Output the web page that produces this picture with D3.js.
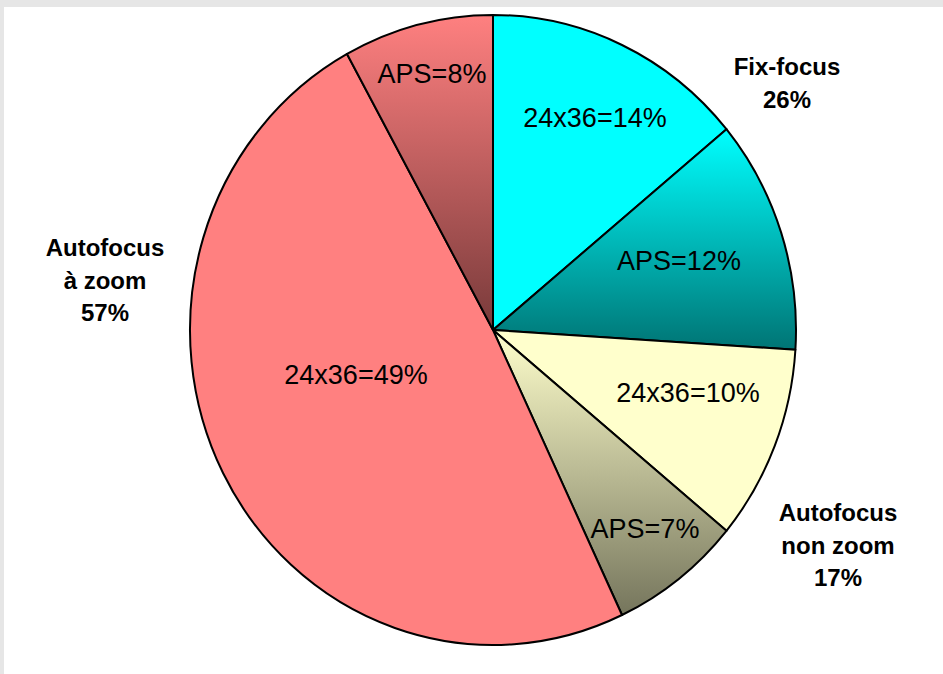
<!DOCTYPE html>
<html>
<head>
<meta charset="utf-8">
<script src="https://cdn.jsdelivr.net/npm/d3@7"></script>
<style>
  html, body { margin: 0; padding: 0; background: #e6e6e6; }
  svg { display: block; }
</style>
</head>
<body>
<svg id="chart" width="943" height="674"></svg>
<script>
// Camera market split by type and film format (clockwise from 12 o'clock)
const sliceLabels = ["24x36", "APS", "24x36", "APS", "24x36", "APS"];
const sliceValues = [14, 12, 10, 7, 49, 8];
const sliceGroups = ["Fix-focus", "Fix-focus", "Autofocus non zoom", "Autofocus non zoom", "Autofocus à zoom", "Autofocus à zoom"];
const groupNames = ["Fix-focus", "Autofocus non zoom", "Autofocus à zoom"];
const groupLabelLines = [["Fix-focus"], ["Autofocus", "non zoom"], ["Autofocus", "à zoom"]];

// Fill of each slice: solid top colour, or a vertical gradient when bottom is set
const sliceFillTop = ["#00FFFF", "#00FFFF", "#FFFFCC", "#FFFFCC", "#FF8080", "#FF8080"];
const sliceFillBottom = [null, "#007474", null, "#75755C", null, "#783A3A"];

// Label anchors relative to the pie centre (layout only)
const sliceLabelPos = [[102, -203], [186, -60], [195, 72], [152, 208], [-137, 54], [-61, -247]];
const groupLabelPos = [[294, -255], [345, 191], [-388, -74]];

const W = 943, H = 674;
const cx = 493, cy = 330, rx = 303, ry = 315;

const svg = d3.select("#chart");
svg.append("rect").attr("x", 4).attr("y", 7).attr("width", W - 4).attr("height", H - 7).attr("fill", "#ffffff");

const defs = svg.append("defs");
sliceFillBottom.forEach((b, i) => {
  if (!b) return;
  const g = defs.append("linearGradient").attr("id", "grad" + i)
    .attr("x1", 0).attr("y1", 0).attr("x2", 0).attr("y2", 1);
  g.append("stop").attr("offset", "0%").attr("stop-color", sliceFillTop[i]);
  g.append("stop").attr("offset", "100%").attr("stop-color", b);
});

const data = sliceValues.map((v, i) => ({ label: sliceLabels[i], value: v, group: sliceGroups[i], i }));
const pie = d3.pie().value(d => d.value).sort(null);
const arcs = pie(data);
const arc = d3.arc().innerRadius(0).outerRadius(rx);

const pieG = svg.append("g")
  .attr("transform", `translate(${cx},${cy}) scale(1,${ry / rx})`);

pieG.selectAll("path.slice")
  .data(arcs)
  .join("path")
  .attr("class", "slice")
  .attr("d", arc)
  .attr("fill", d => sliceFillBottom[d.data.i] ? `url(#grad${d.data.i})` : sliceFillTop[d.data.i])
  .attr("stroke", "#000")
  .attr("stroke-width", 2)
  .attr("stroke-linejoin", "round")
  .attr("vector-effect", "non-scaling-stroke");

// Slice labels
const labelG = svg.append("g").attr("transform", `translate(${cx},${cy})`);
labelG.selectAll("text.slice-label")
  .data(arcs)
  .join("text")
  .attr("class", "slice-label")
  .attr("x", d => sliceLabelPos[d.data.i][0])
  .attr("y", d => sliceLabelPos[d.data.i][1])
  .attr("text-anchor", "middle")
  .attr("font-family", "Arial, 'Liberation Sans', sans-serif")
  .attr("font-size", 27)
  .attr("fill", "#000")
  .text(d => `${d.data.label}=${d.data.value}%`);

// Group labels with summed percentage
const groupTotals = groupNames.map(g => d3.sum(data.filter(d => d.group === g), d => d.value));
groupNames.forEach((g, gi) => {
  const lines = groupLabelLines[gi].concat([groupTotals[gi] + "%"]);
  const t = labelG.append("text")
    .attr("text-anchor", "middle")
    .attr("font-family", "Arial, 'Liberation Sans', sans-serif")
    .attr("font-size", 24)
    .attr("font-weight", "bold")
    .attr("fill", "#000");
  lines.forEach((ln, li) => {
    t.append("tspan")
      .attr("x", groupLabelPos[gi][0])
      .attr("y", groupLabelPos[gi][1] + li * 32.5)
      .text(ln);
  });
});
</script>
</body>
</html>
